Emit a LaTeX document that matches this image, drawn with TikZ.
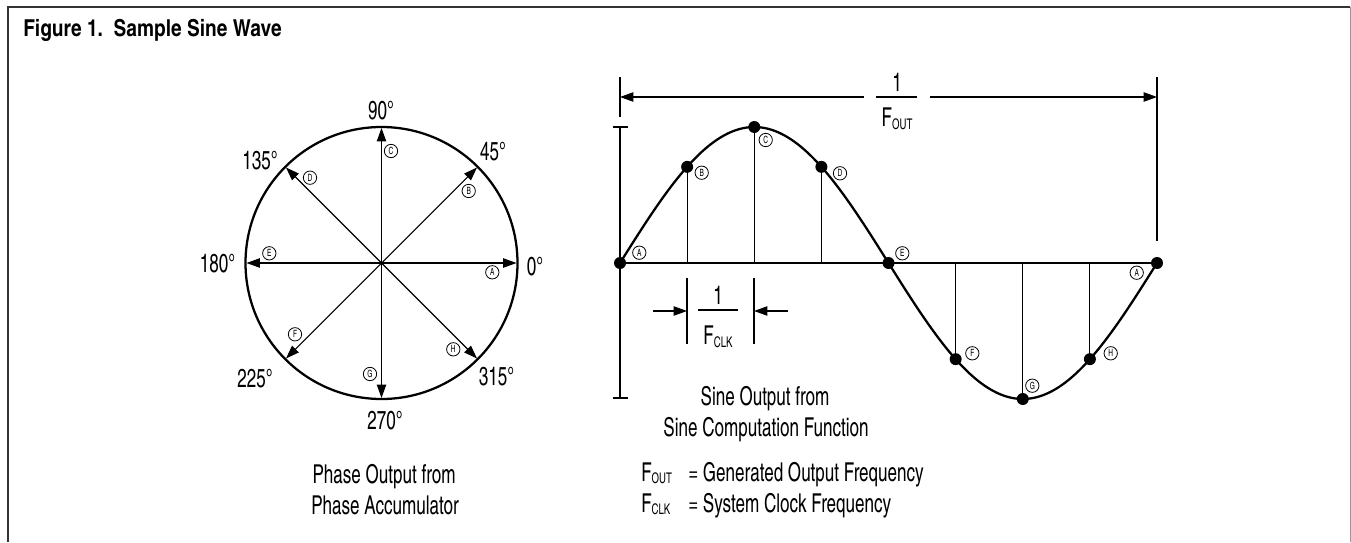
\documentclass[tikz,border=0pt]{standalone}
\usepackage{fontspec}
\setmainfont{texgyreheroscn}[Extension=.otf,UprightFont=*-regular,BoldFont=*-bold,FakeStretch=0.8]
\newfontfamily\titlefont{texgyreheroscn}[Extension=.otf,UprightFont=*-bold,FakeStretch=1.0]
\usetikzlibrary{arrows.meta,calc}
\newcommand\sbs[1]{\raisebox{-1.8pt}{\fontsize{11pt}{11pt}\selectfont #1}}
\begin{document}
\begin{tikzpicture}[x=0.75pt,y=-0.75pt,
  lbl/.style={inner sep=0pt,font=\fontsize{19.5pt}{22pt}\selectfont},
  cl/.style={draw,circle,line width=0.6pt,inner sep=0pt,minimum size=10pt,font=\fontsize{7.5pt}{7.5pt}\selectfont},
  heavy/.style={line width=1.7pt},
  thinln/.style={line width=0.8pt},
  tip/.style={-{Triangle[length=10pt,width=7pt]}},
  dot/.style={circle,fill,inner sep=0pt,minimum size=9pt},
]
\useasboundingbox (0,0) rectangle (1351,542);
% frame
\draw[line width=1.5pt,black!80] (8,542) -- (8,7) -- (1350,7);
\draw[line width=0.75pt,black!40] (1350,7) -- (1350,542);
\node[anchor=base west,inner sep=0pt,font=\titlefont\fontsize{17.5pt}{19pt}\selectfont] (title) at (23,37) {Figure 1.\ \ Sample Sine Wave};

% ---------- phase circle ----------
\coordinate (O) at (381.5,263);
\draw[heavy] (O) circle[radius=102pt];
\coordinate (p0) at (516.5,263);
\coordinate (p45) at (477,167.5);
\coordinate (p90) at (381.5,128);
\coordinate (p135) at (286,167.5);
\coordinate (p180) at (246.5,263);
\coordinate (p225) at (286,358.5);
\coordinate (p270) at (381.5,398);
\coordinate (p315) at (477,358.5);
\foreach \p in {p0,p45,p90,p135,p180,p225,p270,p315}{\draw[thinln,tip] (O) -- (\p);}

\node[lbl] (d90) at (381,110.5) {90°};
\node[lbl] (d45) at (493,151.5) {45°};
\node[lbl] (d135) at (260,160.5) {135°};
\node[lbl] (d180) at (217.5,263.5) {180°};
\node[lbl] (d0) at (535,267) {0°};
\node[lbl] (d225) at (255,379) {225°};
\node[lbl] (d315) at (496.5,377) {315°};
\node[lbl] (d270) at (385,421) {270°};

\node[cl] (cA) at (492.3,272.3) {A};
\node[cl] (cB) at (468.7,191) {B};
\node[cl] (cC) at (391,151) {C};
\node[cl] (cD) at (310,177.7) {D};
\node[cl] (cE) at (269.3,253.3) {E};
\node[cl] (cF) at (295,334.3) {F};
\node[cl] (cG) at (370,374) {G};
\node[cl] (cH) at (453.3,349.3) {H};

\node[lbl,anchor=base] (ph1) at (384,483) {Phase Output from};
\node[lbl,anchor=base] (ph2) at (385,514) {Phase Accumulator};

% ---------- sine wave ----------
\foreach \k in {1,2,3,5,6,7}{
  \coordinate (a\k) at ({620+\k*67.125},263);
  \coordinate (q\k) at ({620+\k*67.125},{263-136*sin(\k*45)});
  \draw[thinln] (a\k) -- (q\k);
}
\coordinate (ax0) at (620,263);
\coordinate (ax8) at (1157,263);
\draw[heavy] (ax0) -- (ax8);
\draw[heavy] plot[domain=0:360,samples=145,smooth] ({620+1.491667*\x},{263-136*sin(\x)});
\foreach \k in {0,...,8}{
  \node[dot] (s\k) at ({620+\k*67.125},{263-136*sin(\k*45)}) {};
}
% amplitude bar
\coordinate (bt) at (620,127);
\coordinate (bb) at (620,398);
\draw[heavy] (bt) -- (bb);
\draw[heavy] ($(bt)+(-7.5,0)$) -- ($(bt)+(7.5,0)$);
\draw[heavy] ($(bb)+(-7.5,0)$) -- ($(bb)+(7.5,0)$);

% period dimension
\coordinate (vlt) at (620,77);
\coordinate (vlb) at (620,117);
\coordinate (vrt) at (1157,77);
\coordinate (vrb) at (1157,241);
\draw[thinln] (vlt) -- (vlb);
\draw[thinln] (vrt) -- (vrb);
\coordinate (dl) at (620,97);
\coordinate (dr) at (1157,97);
\coordinate (fl) at (864,97);
\coordinate (fr) at (930,97);
\draw[thinln,tip] (fl) -- (dl);
\draw[thinln,tip] (fr) -- (dr);
\node[lbl] (fo1) at (897,82) {1};
\node[lbl] (foF) at (897,119) {F\sbs{OUT}};
\coordinate (fbl) at (876,97);
\coordinate (fbr) at (917,97);
\draw[thinln] (fbl) -- (fbr);

% clock dimension
\coordinate (ct1) at (687,278);
\coordinate (cb1) at (687,344);
\coordinate (ct2) at (754,278);
\coordinate (cb2) at (754,344);
\draw[thinln] (ct1) -- (cb1);
\draw[thinln] (ct2) -- (cb2);
\coordinate (cl1) at (653,311);
\coordinate (cr1) at (687,311);
\coordinate (cl2) at (788,311);
\coordinate (cr2) at (754,311);
\draw[thinln,tip] (cl1) -- (cr1);
\draw[thinln,tip] (cl2) -- (cr2);
\node[lbl] (fc1) at (718,295) {1};
\node[lbl] (fcF) at (718,337) {F\sbs{CLK}};
\coordinate (cbl) at (698,310);
\coordinate (cbr) at (738,310);
\draw[thinln] (cbl) -- (cbr);

% circled labels on sine
\node[cl] (sA) at (639.3,252.7) {A};
\node[cl] (sB) at (701.7,172.7) {B};
\node[cl] (sC) at (765.7,140) {C};
\node[cl] (sD) at (840,173.3) {D};
\node[cl] (sE) at (902.3,253.3) {E};
\node[cl] (sF) at (972.3,353.3) {F};
\node[cl] (sG) at (1032.3,385.7) {G};
\node[cl] (sH) at (1110.7,353.3) {H};
\node[cl] (sA2) at (1136.7,272.7) {A};

\node[lbl,anchor=base] (so1) at (765,405) {Sine Output from};
\node[lbl,anchor=base] (so2) at (766,436.5) {Sine Computation Function};

% legend
\node[lbl,anchor=base west] (lgF1) at (641,481) {F\sbs{OUT}};
\node[lbl,anchor=base west] (lgT1) at (688,481) {= Generated Output Frequency};
\node[lbl,anchor=base west] (lgF2) at (641,512.5) {F\sbs{CLK}};
\node[lbl,anchor=base west] (lgT2) at (688,512.5) {= System Clock Frequency};
\end{tikzpicture}
\end{document}
